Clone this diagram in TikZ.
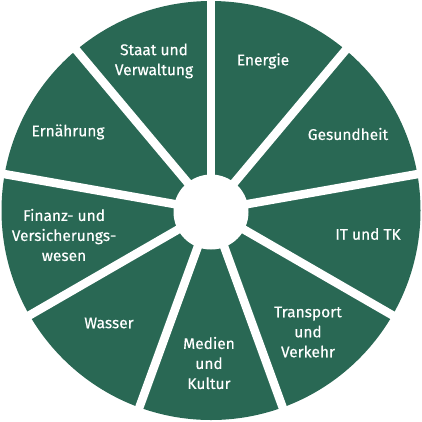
\documentclass[tikz,border=0pt]{standalone}
\usepackage{fontspec}
\setmainfont{Fira Sans}[FakeBold=0.3]
\definecolor{wheelgreen}{RGB}{41,104,84}
\begin{document}
\begin{tikzpicture}[x=1pt,y=-1pt,
  gapline/.style={white,line width=8.5pt},
  lbl/.style={text=white,font=\fontsize{15.5}{20}\selectfont,align=center,inner sep=0pt}]
\useasboundingbox (0,0) rectangle (422,421);
\coordinate (c) at (211,210.5);
\fill[wheelgreen] (c) circle[radius=209.5];
\foreach \a in {90,50,10,-30,-70,-110,-150,170,130}{
  \draw[gapline] (c) -- ++({215*cos(\a)},{-215*sin(\a)});
}
\fill[white] (211,212) circle[radius=37.5];
\node[lbl] (staat) at (154,61) {Staat und\\Verwaltung};
\node[lbl] (energie) at (263,61) {Energie};
\node[lbl] (gesund) at (348,134) {Gesundheit};
\node[lbl] (it) at (368,234) {IT und TK};
\node[lbl] (transport) at (308,332) {Transport\\und\\Verkehr};
\node[lbl] (medien) at (209,363) {Medien\\und\\Kultur};
\node[lbl] (wasser) at (109,323) {Wasser};
\node[lbl] (finanz) at (64,235) {Finanz- und\\Versicherungs-\\wesen};
\node[lbl] (ernaehrung) at (68,132) {Ernährung};
\end{tikzpicture}
\end{document}
